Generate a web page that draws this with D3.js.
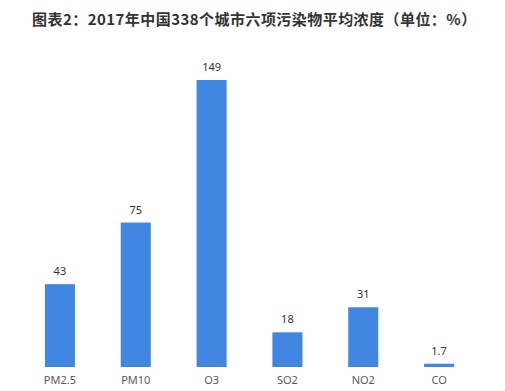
<!DOCTYPE html>
<html>
<head>
<meta charset="utf-8">
<script src="https://cdn.jsdelivr.net/npm/d3@7"></script>
<style>
  body { margin: 0; background: #fff; }
  svg { display: block; }
</style>
</head>
<body>
<div id="chart"></div>
<script>
// chart data
var categories = ["PM2.5", "PM10", "O3", "SO2", "NO2", "CO"];
var values = [43, 75, 149, 18, 31, 1.7];
var valueLabels = ["43", "75", "149", "18", "31", "1.7"];

var width = 505;
var height = 391;

var svg = d3.select("#chart")
  .append("svg")
  .attr("width", width)
  .attr("height", height);

// title
svg.append("text")
  .attr("x", 32)
  .attr("y", 25)
  .style("font-family", "'Noto Sans CJK SC', sans-serif")
  .style("font-weight", "bold")
  .style("font-size", "15px")
  .style("letter-spacing", "0.45px")
  .style("fill", "#333")
  .text("图表2：2017年中国338个城市六项污染物平均浓度（单位：%）");

// scales
var x = d3.scaleBand()
  .domain(categories)
  .range([22, 477])
  .paddingInner(0.604)
  .paddingOuter(0.302);

var y = d3.scaleLinear()
  .domain([0, 149])
  .range([367, 80]);

// bars
svg.selectAll("rect.bar")
  .data(values)
  .enter()
  .append("rect")
  .attr("class", "bar")
  .attr("x", (d, i) => x(categories[i]))
  .attr("y", d => y(d))
  .attr("width", x.bandwidth())
  .attr("height", d => y(0) - y(d))
  .style("fill", "#4186e0");

// value labels
svg.selectAll("text.val")
  .data(values)
  .enter()
  .append("text")
  .attr("class", "val")
  .attr("x", (d, i) => x(categories[i]) + x.bandwidth() / 2)
  .attr("y", d => y(d) - 9)
  .attr("text-anchor", "middle")
  .style("font-family", "'Noto Sans', sans-serif")
  .style("font-size", "11px")
  .style("fill", "#333")
  .text((d, i) => valueLabels[i]);

// x axis labels
var xAxis = svg.append("g")
  .attr("transform", "translate(0," + y(0) + ")")
  .call(d3.axisBottom(x).tickSize(0).tickPadding(9));
xAxis.select(".domain").remove();
xAxis.selectAll("text")
  .style("font-family", "'Noto Sans', sans-serif")
  .style("font-size", "11px")
  .style("fill", "#595959");
</script>
</body>
</html>
